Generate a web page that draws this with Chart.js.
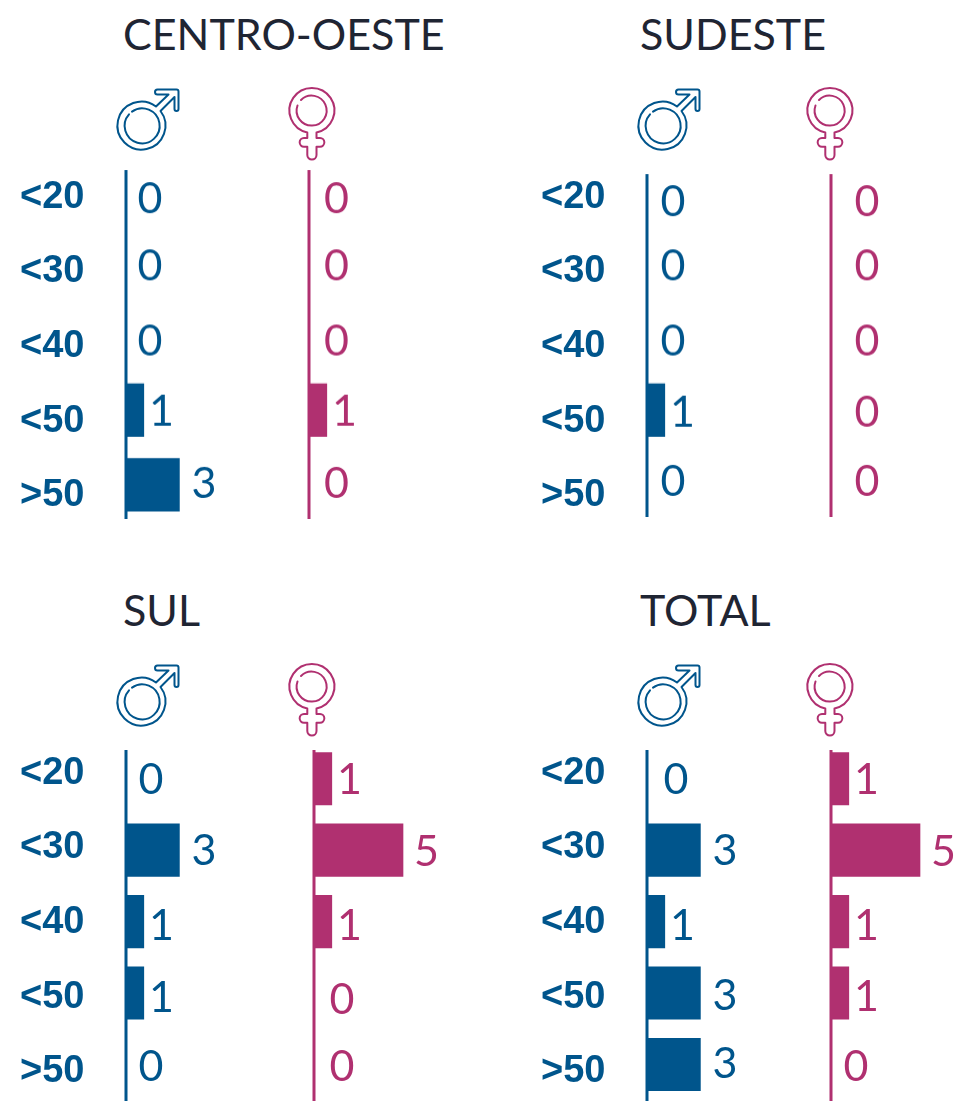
<!DOCTYPE html>
<html lang="pt">
<head>
<meta charset="utf-8">
<title>Faixa etária por sexo</title>
<script src="https://cdn.jsdelivr.net/npm/chart.js@4/dist/chart.umd.min.js"></script>
<style>
html,body{margin:0;padding:0;background:#fff;width:958px;height:1101px;overflow:hidden;position:relative}
canvas{position:absolute;display:block}
.t{position:absolute;font:400 43px Lato,sans-serif;color:#1f2533;line-height:50px;white-space:nowrap}
svg{position:absolute;left:0;top:0}
</style>
</head>
<body>
<svg width="958" height="1101" fill="none" stroke-width="2" stroke-linejoin="round" stroke-linecap="round">
<defs>
<g id="mars" stroke="#00558c">
<path d="M156 106.5A24 24 0 1 0 160.5 111L174.5 97V109A2 2 0 0 0 178.5 109V91.5Q178.5 89.5 176.5 89.5H157.5A2.5 2.5 0 0 0 157.5 94.5H168.5Z"/>
<path d="M132 111.6A17.5 17.5 0 1 1 129 114.3"/>
</g>
<g id="venus" stroke="#b03070">
<path d="M307.3 132.5A22.5 22.5 0 1 1 316.5 132.5V138H320A4.3 4.3 0 0 1 320 146.7H316.5V155A4.6 4.6 0 0 1 307.3 155V146.7H304A4.3 4.3 0 0 1 304 138H307.3Z"/>
<path d="M301 100A15 15 0 1 1 297.5 105.5"/>
</g>
</defs>
<use href="#mars"/><use href="#venus"/>
<use href="#mars" x="521"/><use href="#venus" x="518"/>
<use href="#mars" y="576"/><use href="#venus" y="576"/>
<use href="#mars" x="521" y="576"/><use href="#venus" x="518" y="576"/>
</svg>
<script>
const ageLabels = ['<20','<30','<40','<50','>50'];
const panelTitles = ['CENTRO-OESTE','SUDESTE','SUL','TOTAL'];

const centroOesteMale   = [0,0,0,1,3];
const centroOesteFemale = [0,0,0,1,0];
const sudesteMale       = [0,0,0,1,0];
const sudesteFemale     = [0,0,0,0,0];
const sulMale           = [0,3,1,1,0];
const sulFemale         = [1,5,1,0,0];
const totalMale         = [0,3,1,3,3];
const totalFemale       = [1,5,1,1,0];

const BLUE = '#00558c', PINK = '#b03070';
const PX_PER_UNIT = 17.8;
const valueGap = {1:17.7, 3:24.5, 5:23.5};

/* layout only: canvas frames and small label nudges */
const topFrame    = {areaTop:149,   areaBottom:521.5};
const bottomFrame = {areaTop:742.7, areaBottom:1100.2};
const charts = [
 {data:centroOesteMale,  color:BLUE, axisX:125.5, axis:[170,518],  frame:topFrame,    zero:24, nudge:[13,6,6,2,-1]},
 {data:centroOesteFemale,color:PINK, axisX:309,   axis:[170,518],  frame:topFrame,    zero:27.5, nudge:[13,6,6,2,-1]},
 {data:sudesteMale,      color:BLUE, axisX:646.5, axis:[174,516],  frame:topFrame,    zero:26, nudge:[16,6,6,3,-3]},
 {data:sudesteFemale,    color:PINK, axisX:831,   axis:[174,516],  frame:topFrame,    zero:36, nudge:[16,6,6,3,-3]},
 {data:sulMale,          color:BLUE, axisX:125.5, axis:[750,1101], frame:bottomFrame, zero:25, nudge:[1,1,5,5,3]},
 {data:sulFemale,        color:PINK, axisX:314,   axis:[750,1101], frame:bottomFrame, zero:28, nudge:[1,2,5,7,3]},
 {data:totalMale,        color:BLUE, axisX:646.5, axis:[750,1101], frame:bottomFrame, zero:29, nudge:[1,1,5,3,0]},
 {data:totalFemale,      color:PINK, axisX:831,   axis:[750,1101], frame:bottomFrame, zero:25, nudge:[1,2,5,4,3]}
];

const common = {responsive:false, animation:false, events:[],
  plugins:{legend:{display:false}, tooltip:{enabled:false}, title:{display:false}}};

const markPlugin = {
  id:'marks',
  beforeDatasetsDraw(c, args, o){
    const g = c.ctx, x = c.scales.x.getPixelForValue(0), top = c.canvas.offsetTop;
    g.save(); g.strokeStyle = o.color; g.lineWidth = 3;
    g.beginPath(); g.moveTo(x, o.axis[0]-top); g.lineTo(x, o.axis[1]-top); g.stroke(); g.restore();
  },
  afterDatasetsDraw(c, args, o){
    const g = c.ctx, ds = c.data.datasets[0].data;
    g.save(); g.fillStyle = o.color; g.font = '400 43px Lato, sans-serif';
    g.textAlign = 'center'; g.textBaseline = 'middle';
    ds.forEach((v,i) => {
      const x = c.scales.x.getPixelForValue(v) + (v === 0 ? o.zero : valueGap[v]);
      const y = c.scales.y.getPixelForValue(i) + o.nudge[i];
      g.fillText(String(v), x, y);
    });
    g.restore();
  }
};

function addCanvas(l,t,w,h){
  const el = document.createElement('canvas');
  el.width = w; el.height = h;
  el.style.left = l+'px'; el.style.top = t+'px';
  el.style.width = w+'px'; el.style.height = h+'px';
  document.body.appendChild(el);
  return el;
}

charts.forEach(p => {
  const left = p.axisX - 3, width = Math.min(130, 958-left);
  const top = Math.min(p.frame.areaTop, p.axis[0]) - 2;
  const bottom = Math.min(1101, Math.max(p.frame.areaBottom, p.axis[1]) + 2);
  const el = addCanvas(left, top, width, bottom-top);
  new Chart(el, {
    type:'bar',
    data:{labels:ageLabels, datasets:[{data:p.data, backgroundColor:p.data.map(v => v ? p.color : 'transparent'), barThickness:52.5, borderWidth:0}]},
    options:{...common, indexAxis:'y',
      layout:{padding:{left:3,right:0,top:p.frame.areaTop-top,bottom:Math.max(0,bottom-p.frame.areaBottom)}},
      plugins:{...common.plugins, marks:{color:p.color, axis:p.axis, zero:p.zero, nudge:p.nudge}},
      scales:{
        x:{type:'linear', display:false, min:0, max:(width-3)/PX_PER_UNIT},
        y:{type:'category', display:false, offset:true}
      }},
    plugins:[markPlugin]
  });
});

/* age tick labels: their own axis, spaced independently from the bars */
[[0,137.2],[521,136.8],[0,713.2],[521,712.8]].forEach(([l,t]) => {
  const h = 419;
  const el = addCanvas(l, t, 200, h);
  new Chart(el, {
    type:'bar',
    data:{labels:ageLabels, datasets:[]},
    options:{...common, indexAxis:'y',
      layout:{padding:{left:20,top:0,right:0,bottom:0}},
      scales:{
        x:{type:'linear', display:false},
        y:{type:'category', offset:true, grid:{display:false, drawTicks:false, offset:true}, border:{display:false},
           ticks:{color:BLUE, padding:0, autoSkip:false, font:{family:'Liberation Sans', weight:'bold', size:38}}}
      }}
  });
});

[[123,9],[640,9],[123,585],[640,585]].forEach(([x,y],i) => {
  const d = document.createElement('div');
  d.className = 't'; d.textContent = panelTitles[i];
  d.style.left = x+'px'; d.style.top = y+'px';
  document.body.appendChild(d);
});
</script>
</body>
</html>
